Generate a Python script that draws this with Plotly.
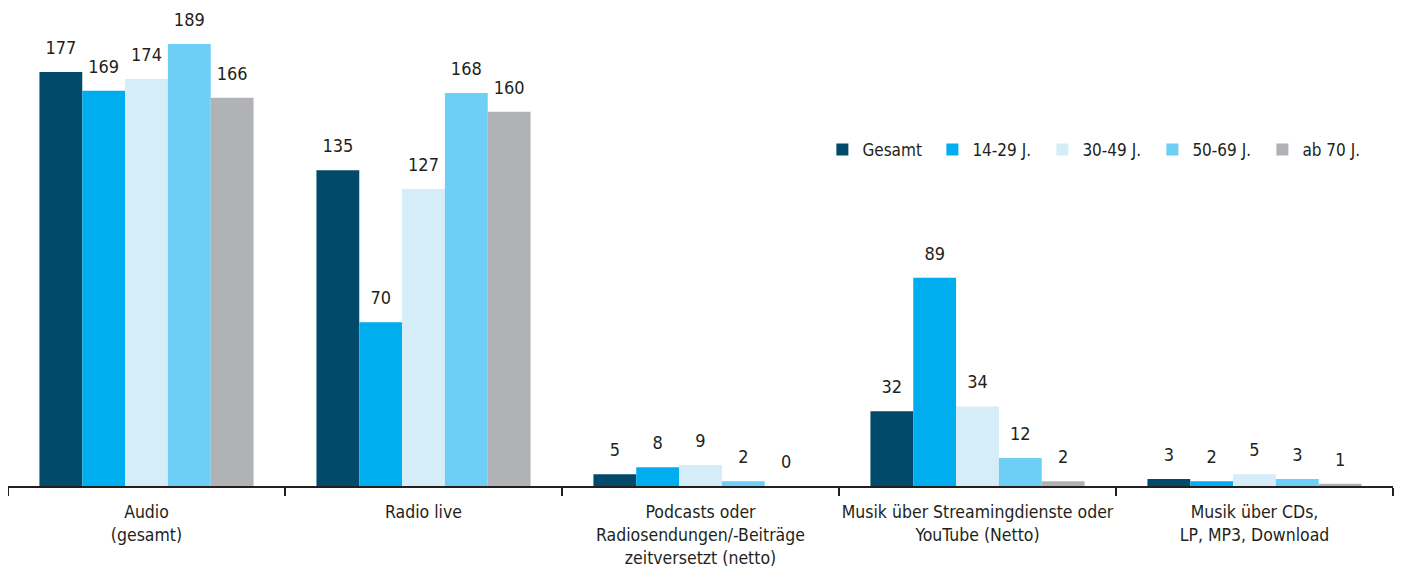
import plotly.graph_objects as go

categories = ["Audio<br>(gesamt)", "Radio live",
              "Podcasts oder<br>Radiosendungen/-Beiträge<br>zeitversetzt (netto)",
              "Musik über Streamingdienste oder<br>YouTube (Netto)",
              "Musik über CDs,<br>LP, MP3, Download"]
series_names = ["Gesamt", "14-29 J.", "30-49 J.", "50-69 J.", "ab 70 J."]
gesamt = [177, 135, 5, 32, 3]
j14_29 = [169, 70, 8, 89, 2]
j30_49 = [174, 127, 9, 34, 5]
j50_69 = [189, 168, 2, 12, 3]
ab70 = [166, 160, 0, 2, 1]
series_values = [gesamt, j14_29, j30_49, j50_69, ab70]
colors = ["#014a6a", "#00adef", "#d5ecf9", "#6dcff6", "#b1b2b5"]

FONT = "DejaVu Sans Condensed, Roboto, sans-serif"
TXT = "#231f20"

fig = go.Figure()
for name, vals, col in zip(series_names, series_values, colors):
    fig.add_trace(go.Bar(x=categories, y=vals, name=name, marker_color=col,
                         marker_line_width=0, offsetgroup=name))
for name, vals in zip(series_names, series_values):
    fig.add_trace(go.Scatter(x=categories, y=vals, mode="markers+text", text=[str(v) for v in vals],
                             textposition="top center", offsetgroup=name,
                             marker=dict(size=20, opacity=0), showlegend=False,
                             textfont=dict(size=18, color=TXT, family=FONT),
                             cliponaxis=False, hoverinfo="skip"))

fig.update_layout(
    width=1402, height=570,
    margin=dict(l=0, r=17, t=0, b=92, autoexpand=False),
    paper_bgcolor="white", plot_bgcolor="white",
    barmode="group", bargap=0.227, bargroupgap=0,
    scattermode="group",
    font=dict(family=FONT, size=16, color=TXT),
    showlegend=True,
    legend=dict(orientation="h", x=0.588, xanchor="left", y=0.703, yanchor="middle",
                font=dict(size=17, color=TXT, family=FONT), itemwidth=30,
                entrywidth=65, entrywidthmode="pixels",
                traceorder="normal", bgcolor="rgba(0,0,0,0)"),
    xaxis=dict(showline=True, linecolor="#231f20", linewidth=2, ticks="outside",
               tickson="boundaries", ticklen=8, tickwidth=2, tickcolor="#231f20",
               ticklabelstandoff=9, tickangle=0, automargin=False,
               showgrid=False, tickfont=dict(size=17.5, color=TXT, family=FONT)),
    yaxis=dict(visible=False, range=[0, 204.4], showgrid=False, zeroline=False),
)
fig.write_html("out.html")
